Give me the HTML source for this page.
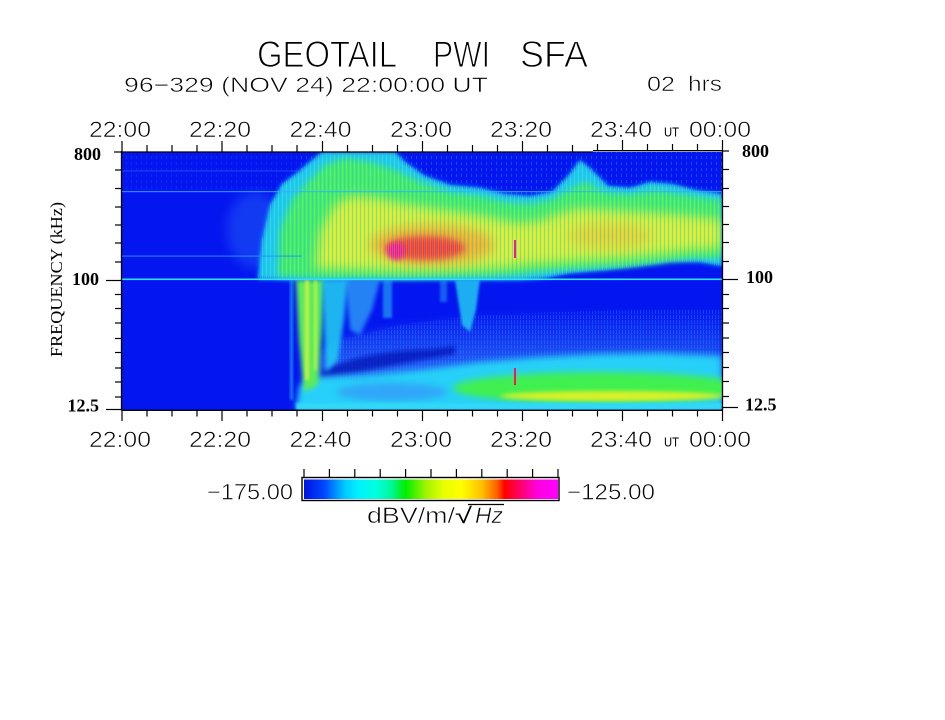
<!DOCTYPE html>
<html><head><meta charset="utf-8"><style>
html,body{margin:0;padding:0;background:#fff;}
svg{display:block;}
text{font-family:"Liberation Sans",sans-serif;fill:#000;}
.s{font-family:"Liberation Serif",serif;}
.th{stroke:#fff;stroke-width:1.1px;}
.tt{stroke:#fff;stroke-width:0.6px;}
</style></head><body>
<svg width="945" height="720" viewBox="0 0 945 720" xmlns="http://www.w3.org/2000/svg">
<defs>
 <clipPath id="pc"><rect x="122" y="152" width="600" height="258"/></clipPath>
 <filter id="b1" x="-30%" y="-30%" width="160%" height="160%"><feGaussianBlur stdDeviation="1.2"/></filter>
 <filter id="b2" x="-30%" y="-30%" width="160%" height="160%"><feGaussianBlur stdDeviation="2.2"/></filter>
 <filter id="b3" x="-30%" y="-30%" width="160%" height="160%"><feGaussianBlur stdDeviation="3.5"/></filter>
 <filter id="b5" x="-30%" y="-30%" width="160%" height="160%"><feGaussianBlur stdDeviation="5.5"/></filter>
 <pattern id="vs" width="4" height="8" patternUnits="userSpaceOnUse"><rect x="0" y="0" width="1" height="8" fill="#10c8ff" opacity=".45"/><rect x="2" y="0" width="1" height="8" fill="#f8f020" opacity=".25"/></pattern>
 <pattern id="vb" width="5" height="6" patternUnits="userSpaceOnUse"><rect x="1" y="0" width="1" height="3" fill="#30a0ff" opacity=".55"/></pattern>
 <pattern id="vc" width="3" height="5" patternUnits="userSpaceOnUse"><rect x="1" y="0" width="1" height="4" fill="#40c8ff" opacity=".6"/></pattern>
 <linearGradient id="hz" x1="0" y1="0" x2="0" y2="1">
  <stop offset="0" stop-color="#3a8cf8" stop-opacity="0"/>
  <stop offset="0.55" stop-color="#3a8cf8" stop-opacity=".55"/>
  <stop offset="1" stop-color="#40a8f8" stop-opacity=".8"/>
 </linearGradient>
 <clipPath id="env"><path d="M258,279 L262,240 L270,205 L282,184 L298,172 L312,160 L322,152 L395,152 L405,162 L425,176 L450,185 L480,188 L505,194 L530,196 L552,192 L568,176 L580,160 L592,170 L608,186 L630,188 L650,182 L672,184 L695,190 L722,194 L722,266 L700,262 L670,262 L640,266 L605,270 L570,273 L545,278 L520,280 L300,280 Z"/></clipPath>
 <linearGradient id="cb" x1="0" y1="0" x2="1" y2="0">
  <stop offset="0" stop-color="#0010e0"/>
  <stop offset="0.08" stop-color="#0048ff"/>
  <stop offset="0.16" stop-color="#00c8ff"/>
  <stop offset="0.21" stop-color="#00f0ff"/>
  <stop offset="0.28" stop-color="#00ffe0"/>
  <stop offset="0.34" stop-color="#00f8a0"/>
  <stop offset="0.40" stop-color="#00ee00"/>
  <stop offset="0.48" stop-color="#a0f400"/>
  <stop offset="0.55" stop-color="#e8ff00"/>
  <stop offset="0.62" stop-color="#ffff00"/>
  <stop offset="0.70" stop-color="#ffc000"/>
  <stop offset="0.76" stop-color="#ff6000"/>
  <stop offset="0.79" stop-color="#ff0000"/>
  <stop offset="0.86" stop-color="#ff0078"/>
  <stop offset="0.92" stop-color="#ff00e0"/>
  <stop offset="1" stop-color="#ff00ff"/>
 </linearGradient>
</defs>

<!-- Titles -->
<g font-size="37">
 <text class="th" x="257" y="67" textLength="140" lengthAdjust="spacingAndGlyphs">GEOTAIL</text>
 <text class="th" x="433" y="67" textLength="57" lengthAdjust="spacingAndGlyphs">PWI</text>
 <text class="th" x="520" y="67" textLength="68" lengthAdjust="spacingAndGlyphs">SFA</text>
</g>
<text class="tt" x="124" y="92" font-size="21" textLength="364" lengthAdjust="spacingAndGlyphs">96−329 (NOV 24) 22:00:00 UT</text>
<g font-size="21">
 <text class="tt" x="647" y="91" textLength="28" lengthAdjust="spacingAndGlyphs">02</text>
 <text class="tt" x="688" y="91" textLength="34" lengthAdjust="spacingAndGlyphs">hrs</text>
</g>

<!-- Spectrogram -->
<g clip-path="url(#pc)">
 <rect x="122" y="152" width="600" height="258" fill="#0416f0"/>
 <!-- upper blue speckle -->
 <rect x="300" y="152" width="422" height="50" fill="url(#vb)" opacity=".7"/>
 <rect x="122" y="152" width="178" height="40" fill="url(#vb)" opacity=".25"/>
 <!-- sparse speckle left of band -->
 <ellipse cx="255" cy="230" rx="28" ry="38" fill="#2a70f8" opacity=".4" filter="url(#b5)"/>
 <!-- cyan envelope -->
 <path d="M258,279 L262,240 L270,205 L282,184 L298,172 L312,160 L322,152 L395,152 L405,162 L425,176 L450,185 L480,188 L505,194 L530,196 L552,192 L568,176 L580,160 L592,170 L608,186 L630,188 L650,182 L672,184 L695,190 L722,194 L722,266 L700,262 L670,262 L640,266 L605,270 L570,273 L545,278 L520,280 L300,280 Z" fill="#18c8f8" filter="url(#b2)"/>
 <!-- green -->
 <path d="M278,276 L280,230 L292,200 L308,182 L325,165 L345,158 L370,162 L395,170 L420,182 L450,192 L480,196 L505,202 L530,204 L550,200 L568,190 L585,182 L605,192 L630,194 L655,190 L680,194 L705,198 L722,200 L722,258 L690,258 L660,262 L625,266 L590,268 L555,270 L520,274 L480,276 L420,277 L330,278 Z" fill="#40ec68" filter="url(#b3)"/>
 <!-- yellow -->
 <path d="M315,268 L320,232 L334,205 L352,196 L375,198 L400,203 L430,208 L460,212 L490,217 L515,223 L540,221 L560,213 L580,208 L610,210 L640,212 L670,214 L700,217 L722,220 L722,248 L690,250 L660,254 L625,258 L590,260 L560,262 L530,264 L500,268 L460,270 L400,271 Z" fill="#e6f030" opacity=".92" filter="url(#b5)"/>
 <!-- orange / red core -->
 <ellipse cx="432" cy="245" rx="62" ry="20" fill="#ffa020" opacity=".8" filter="url(#b5)"/>
 <ellipse cx="610" cy="236" rx="42" ry="13" fill="#ffb020" opacity=".45" filter="url(#b5)"/>
 <ellipse cx="425" cy="248" rx="40" ry="12" fill="#ff2030" opacity=".85" filter="url(#b3)"/>
 <ellipse cx="396" cy="251" rx="9" ry="9" fill="#ff1090" opacity=".9" filter="url(#b2)"/>
 <!-- vertical streak texture over band -->
 <rect x="250" y="152" width="472" height="130" fill="url(#vs)" clip-path="url(#env)"/>
 <rect x="514" y="240" width="2" height="18" fill="#ff10a0"/>

 <!-- lower region haze -->
 <path d="M300,409 L305,360 L340,338 L400,325 L470,316 L550,312 L640,310 L722,310 L722,409 Z" fill="url(#hz)" filter="url(#b3)"/>
 <path d="M330,409 L340,340 L400,325 L470,316 L550,312 L640,310 L722,310 L722,409 Z" fill="url(#vc)" opacity=".35"/>
 <path d="M320,372 Q360,352 420,350 Q440,349 455,346 L455,354 Q420,360 390,366 Q350,374 322,378 Z" fill="#0008b0" opacity=".7" filter="url(#b2)"/>
 <!-- lower cyan -->
 <path d="M296,409 L300,385 L320,377 L360,376 L420,370 L480,362 L540,357 L600,354 L660,353 L722,356 L722,409 Z" fill="#28d0f8" filter="url(#b3)"/>
 <ellipse cx="392" cy="392" rx="55" ry="9" fill="#3a84f8" opacity=".55" filter="url(#b3)"/>
 <!-- green band -->
 <ellipse cx="600" cy="388" rx="147" ry="16" fill="#40f050" filter="url(#b3)"/>
 <ellipse cx="612" cy="396" rx="112" ry="5" fill="#f4f020" opacity=".85" filter="url(#b2)"/>
 <rect x="296" y="403" width="426" height="7" fill="#30d8f8" filter="url(#b1)"/>
 <rect x="514" y="368" width="2" height="17" fill="#ff1060"/>

 <!-- vertical streaks below 100 kHz -->
 <rect x="290" y="280" width="3" height="120" fill="#20b0f8" opacity=".7" filter="url(#b1)"/>
 <path d="M296,280 L324,280 L322,330 L318,385 L304,392 L299,340 Z" fill="#5cec5c" filter="url(#b2)"/>
 <rect x="305" y="280" width="4" height="100" fill="#f0f040" opacity=".7" filter="url(#b1)"/>
 <rect x="314" y="280" width="3" height="90" fill="#f0f040" opacity=".6" filter="url(#b1)"/>
 <path d="M322,280 L348,280 L344,320 L338,360 L326,372 Z" fill="#20d0f0" opacity=".85" filter="url(#b2)"/>
 <path d="M345,280 L380,280 L372,310 L360,335 L350,330 Z" fill="#30b0f8" opacity=".7" filter="url(#b2)"/>
 <rect x="383" y="280" width="9" height="38" fill="#28b8f0" opacity=".6" filter="url(#b1)"/>
 <path d="M455,280 L480,280 L476,310 L470,332 L462,325 L458,300 Z" fill="#20c8f0" opacity=".85" filter="url(#b1)"/>
 <rect x="440" y="280" width="7" height="22" fill="#28a8f0" opacity=".5" filter="url(#b1)"/>

 <!-- horizontal lines -->
 <rect x="122" y="278.5" width="600" height="1.6" fill="#30e0ff"/>
 <rect x="122" y="191" width="600" height="1.2" fill="#30b0ff" opacity=".75"/>
 <rect x="122" y="255.5" width="180" height="1.2" fill="#2a90ff" opacity=".8"/>
 <rect x="122" y="170.5" width="180" height="1" fill="#2a70ff" opacity=".6"/>
</g>

<!-- plot border -->
<g stroke="#000" fill="none" stroke-width="1.3">
 <line x1="121.5" y1="152" x2="593" y2="152"/>
 <line x1="593" y1="150.7" x2="722.5" y2="150.7"/>
 <line x1="121.5" y1="151" x2="121.5" y2="410.5"/>
 <line x1="722.5" y1="150" x2="722.5" y2="410.5"/>
 <line x1="121.5" y1="410.3" x2="722.5" y2="410.3"/>
</g>

<!-- x ticks -->
<g stroke="#000" stroke-width="1.2">
 <line x1="122" y1="141" x2="122" y2="152"/><line x1="147" y1="145" x2="147" y2="152"/><line x1="172" y1="145" x2="172" y2="152"/><line x1="197" y1="145" x2="197" y2="152"/>
 <line x1="222" y1="141" x2="222" y2="152"/><line x1="247" y1="145" x2="247" y2="152"/><line x1="272" y1="145" x2="272" y2="152"/><line x1="297" y1="145" x2="297" y2="152"/>
 <line x1="322.5" y1="141" x2="322.5" y2="152"/><line x1="347.5" y1="145" x2="347.5" y2="152"/><line x1="372.5" y1="145" x2="372.5" y2="152"/><line x1="397.5" y1="145" x2="397.5" y2="152"/>
 <line x1="422.5" y1="141" x2="422.5" y2="152"/><line x1="447.5" y1="145" x2="447.5" y2="152"/><line x1="472.5" y1="145" x2="472.5" y2="152"/><line x1="497.5" y1="145" x2="497.5" y2="152"/>
 <line x1="522.5" y1="141" x2="522.5" y2="152"/><line x1="547.5" y1="145" x2="547.5" y2="152"/><line x1="572.5" y1="145" x2="572.5" y2="152"/><line x1="597.5" y1="144" x2="597.5" y2="151"/>
 <line x1="622.5" y1="140" x2="622.5" y2="151"/><line x1="647.5" y1="144" x2="647.5" y2="151"/><line x1="672.5" y1="144" x2="672.5" y2="151"/><line x1="697.5" y1="144" x2="697.5" y2="151"/>
 <line x1="722.5" y1="140" x2="722.5" y2="151"/>
 <line x1="122" y1="410" x2="122" y2="421"/><line x1="147" y1="410" x2="147" y2="416.5"/><line x1="172" y1="410" x2="172" y2="416.5"/><line x1="197" y1="410" x2="197" y2="416.5"/>
 <line x1="222" y1="410" x2="222" y2="421"/><line x1="247" y1="410" x2="247" y2="416.5"/><line x1="272" y1="410" x2="272" y2="416.5"/><line x1="297" y1="410" x2="297" y2="416.5"/>
 <line x1="322.5" y1="410" x2="322.5" y2="421"/><line x1="347.5" y1="410" x2="347.5" y2="416.5"/><line x1="372.5" y1="410" x2="372.5" y2="416.5"/><line x1="397.5" y1="410" x2="397.5" y2="416.5"/>
 <line x1="422.5" y1="410" x2="422.5" y2="421"/><line x1="447.5" y1="410" x2="447.5" y2="416.5"/><line x1="472.5" y1="410" x2="472.5" y2="416.5"/><line x1="497.5" y1="410" x2="497.5" y2="416.5"/>
 <line x1="522.5" y1="410" x2="522.5" y2="421"/><line x1="547.5" y1="410" x2="547.5" y2="416.5"/><line x1="572.5" y1="410" x2="572.5" y2="416.5"/><line x1="597.5" y1="410" x2="597.5" y2="416.5"/>
 <line x1="622.5" y1="410" x2="622.5" y2="421"/><line x1="647.5" y1="410" x2="647.5" y2="416.5"/><line x1="672.5" y1="410" x2="672.5" y2="416.5"/><line x1="697.5" y1="410" x2="697.5" y2="416.5"/>
 <line x1="722.5" y1="410" x2="722.5" y2="421"/>
</g>

<!-- y ticks -->
<g stroke="#000" stroke-width="1.2">
 <line x1="114" y1="152" x2="122" y2="152"/>
 <line x1="106" y1="280.5" x2="122" y2="280.5"/>
 <line x1="106" y1="409.5" x2="122" y2="409.5"/>
 <line x1="115" y1="170" x2="122" y2="170"/><line x1="115" y1="188.5" x2="122" y2="188.5"/><line x1="115" y1="207" x2="122" y2="207"/><line x1="115" y1="225" x2="122" y2="225"/><line x1="115" y1="243" x2="122" y2="243"/><line x1="115" y1="262" x2="122" y2="262"/>
 <line x1="115" y1="294.5" x2="122" y2="294.5"/><line x1="115" y1="308.5" x2="122" y2="308.5"/><line x1="115" y1="323" x2="122" y2="323"/><line x1="115" y1="338.5" x2="122" y2="338.5"/><line x1="115" y1="352.5" x2="122" y2="352.5"/><line x1="115" y1="368" x2="122" y2="368"/><line x1="115" y1="382" x2="122" y2="382"/><line x1="115" y1="397" x2="122" y2="397"/>
 <line x1="722" y1="151" x2="729" y2="151"/>
 <line x1="722" y1="279.5" x2="738" y2="279.5"/>
 <line x1="722" y1="407.5" x2="738" y2="407.5"/>
 <line x1="722" y1="169.5" x2="729" y2="169.5"/><line x1="722" y1="188.5" x2="729" y2="188.5"/><line x1="722" y1="206.5" x2="729" y2="206.5"/><line x1="722" y1="224.5" x2="729" y2="224.5"/><line x1="722" y1="242.5" x2="729" y2="242.5"/><line x1="722" y1="261.5" x2="729" y2="261.5"/>
 <line x1="722" y1="294.5" x2="729" y2="294.5"/><line x1="722" y1="308.5" x2="729" y2="308.5"/><line x1="722" y1="323" x2="729" y2="323"/><line x1="722" y1="338" x2="729" y2="338"/><line x1="722" y1="352.5" x2="729" y2="352.5"/><line x1="722" y1="367.5" x2="729" y2="367.5"/><line x1="722" y1="381.5" x2="729" y2="381.5"/><line x1="722" y1="396.5" x2="729" y2="396.5"/>
</g>

<!-- x tick labels -->
<g font-size="22">
 <text class="tt" x="89" y="137" textLength="62" lengthAdjust="spacingAndGlyphs">22:00</text>
 <text class="tt" x="189" y="137" textLength="62" lengthAdjust="spacingAndGlyphs">22:20</text>
 <text class="tt" x="289.5" y="137" textLength="62" lengthAdjust="spacingAndGlyphs">22:40</text>
 <text class="tt" x="390" y="137" textLength="62" lengthAdjust="spacingAndGlyphs">23:00</text>
 <text class="tt" x="490" y="137" textLength="62" lengthAdjust="spacingAndGlyphs">23:20</text>
 <text class="tt" x="590" y="137" textLength="62" lengthAdjust="spacingAndGlyphs">23:40</text>
 <text class="tt" x="689" y="137" textLength="62" lengthAdjust="spacingAndGlyphs">00:00</text>
 <text class="tt" x="89" y="447" textLength="62" lengthAdjust="spacingAndGlyphs">22:00</text>
 <text class="tt" x="189" y="447" textLength="62" lengthAdjust="spacingAndGlyphs">22:20</text>
 <text class="tt" x="289.5" y="447" textLength="62" lengthAdjust="spacingAndGlyphs">22:40</text>
 <text class="tt" x="390" y="447" textLength="62" lengthAdjust="spacingAndGlyphs">23:00</text>
 <text class="tt" x="490" y="447" textLength="62" lengthAdjust="spacingAndGlyphs">23:20</text>
 <text class="tt" x="590" y="447" textLength="62" lengthAdjust="spacingAndGlyphs">23:40</text>
 <text class="tt" x="689" y="447" textLength="62" lengthAdjust="spacingAndGlyphs">00:00</text>
</g>
<text x="664" y="136.5" font-size="13" textLength="15" lengthAdjust="spacingAndGlyphs">UT</text>
<text x="664" y="446.5" font-size="13" textLength="15" lengthAdjust="spacingAndGlyphs">UT</text>

<!-- y labels -->
<g class="s" font-size="18" font-weight="bold">
 <text class="s" x="101" y="160" text-anchor="end">800</text>
 <text class="s" x="99" y="285" text-anchor="end">100</text>
 <text class="s" x="99" y="411.5" text-anchor="end">12.5</text>
 <text class="s" x="742" y="157">800</text>
 <text class="s" x="746" y="283">100</text>
 <text class="s" x="745" y="410.5">12.5</text>
</g>
<text class="s" font-size="17" transform="translate(62 279.5) rotate(-90)" text-anchor="middle" textLength="155" lengthAdjust="spacingAndGlyphs">FREQUENCY (kHz)</text>

<!-- colorbar -->
<rect x="302" y="477.5" width="257" height="23" fill="#fff" stroke="#000" stroke-width="1.4"/>
<rect x="304" y="479.5" width="254" height="19.5" fill="url(#cb)"/>
<g stroke="#000" stroke-width="1.2">
 <line x1="304" y1="469" x2="304" y2="477"/><line x1="329.4" y1="469" x2="329.4" y2="477"/><line x1="354.8" y1="469" x2="354.8" y2="477"/><line x1="380.2" y1="469" x2="380.2" y2="477"/><line x1="405.6" y1="469" x2="405.6" y2="477"/><line x1="431" y1="469" x2="431" y2="477"/><line x1="456.4" y1="469" x2="456.4" y2="477"/><line x1="481.8" y1="469" x2="481.8" y2="477"/><line x1="507.2" y1="469" x2="507.2" y2="477"/><line x1="532.6" y1="469" x2="532.6" y2="477"/><line x1="558" y1="469" x2="558" y2="477"/>
</g>
<text class="tt" x="207" y="499.5" font-size="22" textLength="86" lengthAdjust="spacingAndGlyphs">−175.00</text>
<text class="tt" x="567" y="499.5" font-size="22" textLength="88" lengthAdjust="spacingAndGlyphs">−125.00</text>
<text class="tt" x="367" y="523" font-size="22" textLength="88" lengthAdjust="spacingAndGlyphs">dBV/m/</text>
<text x="455" y="523" font-size="22" textLength="17" lengthAdjust="spacingAndGlyphs">√</text>
<text class="tt" x="475" y="523" font-size="22" font-style="italic" textLength="28" lengthAdjust="spacingAndGlyphs">Hz</text>
<line x1="468" y1="504.5" x2="504" y2="504.5" stroke="#000" stroke-width="1.2"/>
</svg>
</body></html>
